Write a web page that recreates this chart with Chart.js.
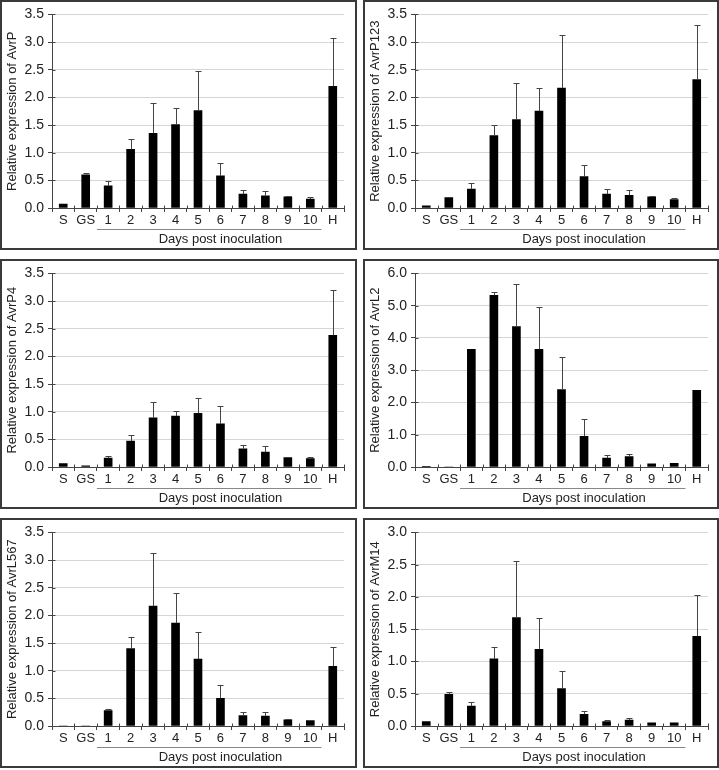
<html>
<head>
    <script src="https://cdn.jsdelivr.net/npm/chart.js"></script>
    <style>
        body { margin: 0; background: #fff; }
        .panel { position: absolute; border: 2px solid #3a3a3a; width: 353px; height: 246px; background: #fff; }
        .panel.right { width: 352px; }
    </style>
    <title></title>
</head>
<body>
    <div class="panel" style="left:0px;top:0px;"><canvas id="c1" width="353" height="246"></canvas></div>
    <div class="panel right" style="left:363px;top:0px;"><canvas id="c2" width="352" height="246"></canvas></div>
    <div class="panel" style="left:0px;top:259px;"><canvas id="c3" width="353" height="246"></canvas></div>
    <div class="panel right" style="left:363px;top:259px;"><canvas id="c4" width="352" height="246"></canvas></div>
    <div class="panel" style="left:0px;top:518px;"><canvas id="c5" width="353" height="246"></canvas></div>
    <div class="panel right" style="left:363px;top:518px;"><canvas id="c6" width="352" height="246"></canvas></div>

    <script>
        "use strict";

        // categories on the x axis
        const categories = ["S", "GS", "1", "2", "3", "4", "5", "6", "7", "8", "9", "10", "H"];

        // mean values and upper error (SD) per gene
        const avrP = [0.07, 0.60, 0.40, 1.06, 1.35, 1.51, 1.76, 0.58, 0.25, 0.22, 0.20, 0.16, 2.20];
        const avrPErr = [0, 0.03, 0.09, 0.18, 0.55, 0.29, 0.72, 0.23, 0.08, 0.08, 0.02, 0.03, 0.88];

        const avrP123 = [0.04, 0.19, 0.34, 1.31, 1.60, 1.75, 2.17, 0.57, 0.25, 0.23, 0.20, 0.15, 2.32];
        const avrP123Err = [0, 0, 0.11, 0.19, 0.66, 0.42, 0.95, 0.21, 0.10, 0.09, 0.01, 0.03, 0.98];

        const avrP4 = [0.06, 0.02, 0.16, 0.47, 0.89, 0.92, 0.97, 0.78, 0.33, 0.27, 0.17, 0.15, 2.38];
        const avrP4Err = [0, 0, 0.03, 0.11, 0.28, 0.10, 0.28, 0.32, 0.07, 0.11, 0, 0.03, 0.82];

        const avrL2 = [0.02, 0, 3.65, 5.32, 4.35, 3.65, 2.40, 0.95, 0.28, 0.32, 0.10, 0.11, 2.38];
        const avrL2Err = [0, 0, 0, 0.10, 1.33, 1.31, 1.02, 0.55, 0.08, 0.08, 0, 0, 0];

        const avrL567 = [0, 0, 0.28, 1.40, 2.17, 1.86, 1.21, 0.50, 0.19, 0.18, 0.11, 0.10, 1.08];
        const avrL567Err = [0, 0, 0.02, 0.20, 0.95, 0.54, 0.49, 0.25, 0.07, 0.08, 0.02, 0.01, 0.35];

        const avrM14 = [0.07, 0.49, 0.31, 1.04, 1.68, 1.19, 0.58, 0.18, 0.07, 0.09, 0.05, 0.05, 1.39];
        const avrM14Err = [0, 0.04, 0.06, 0.18, 0.87, 0.48, 0.28, 0.06, 0.03, 0.04, 0, 0, 0.64];

        const xTitle = "Days post inoculation";

        Chart.defaults.font.family = "'Liberation Sans', Arial, Helvetica, sans-serif";
        Chart.defaults.color = "#222";

        // error bars (upper only), underline for days and the x title
        const extras = {
            id: "extras",
            afterDatasetsDraw(chart) {
                let ctx = chart.ctx;
                let xs = chart.scales.x;
                let ys = chart.scales.y;
                let vals = chart.data.datasets[0].data;
                let errs = chart.options.plugins.extras.err;
                ctx.save();
                ctx.strokeStyle = "#444";
                ctx.lineWidth = 1;
                for (let i = 0; i < vals.length; i++) {
                    if (!errs[i]) continue;
                    let x = Math.round(xs.getPixelForValue(i)) + 0.5;
                    let y0 = ys.getPixelForValue(vals[i]);
                    let y1 = Math.round(ys.getPixelForValue(vals[i] + errs[i])) + 0.5;
                    ctx.beginPath();
                    ctx.moveTo(x, y0);
                    ctx.lineTo(x, y1);
                    ctx.moveTo(x - 3, y1);
                    ctx.lineTo(x + 3, y1);
                    ctx.stroke();
                }
                ctx.restore();
            },
            afterDraw(chart) {
                let ctx = chart.ctx;
                let xs = chart.scales.x;
                let ys = chart.scales.y;
                let axisY = Math.round(ys.getPixelForValue(0)) + 0.5;
                ctx.save();
                ctx.strokeStyle = "#444";
                ctx.lineWidth = 1;
                // small inner ticks so they cross the axes
                ctx.beginPath();
                for (let i = 0; i <= categories.length; i++) {
                    let bx = Math.round(xs.getPixelForValue(i - 0.5)) + 0.5;
                    ctx.moveTo(bx, axisY - 3);
                    ctx.lineTo(bx, axisY);
                }
                let ax = Math.round(xs.left) + 0.5;
                for (let t of ys.ticks) {
                    let ty = Math.round(ys.getPixelForValue(t.value)) + 0.5;
                    ctx.moveTo(ax, ty);
                    ctx.lineTo(ax + 3, ty);
                }
                ctx.stroke();

                // underline beneath days 1..10
                ctx.strokeStyle = "#888";
                let lineY = axisY + 21;
                ctx.beginPath();
                ctx.moveTo(xs.getPixelForValue(1.5), lineY);
                ctx.lineTo(xs.getPixelForValue(11.5), lineY);
                ctx.stroke();

                ctx.fillStyle = "#222";
                ctx.font = "13px 'Liberation Sans', Arial, sans-serif";
                ctx.textAlign = "center";
                ctx.textBaseline = "middle";
                ctx.fillText(xTitle, xs.getPixelForValue(7), axisY + 31);
                ctx.restore();
            }
        };

        function MakeChart(id, name, values, errs, yMax, yStep, topPad, rightPad) {
            let canvas = document.querySelector(id);
            let params = {
                type: "bar",
                data: {
                    labels: categories,
                    datasets: [
                        {
                            label: name,
                            data: values,
                            backgroundColor: "#000",
                            barThickness: 8
                        }]
                },
                options: {
                    responsive: false,
                    animation: false,
                    devicePixelRatio: 1,
                    layout: { padding: { left: 0, top: topPad, right: rightPad, bottom: 0 } },
                    plugins: {
                        legend: { display: false },
                        tooltip: { enabled: false },
                        extras: { err: errs }
                    },
                    scales: {
                        x: {
                            afterFit(scale) { scale.height = 40; },
                            border: { color: "#444", width: 1 },
                            grid: { offset: true, drawOnChartArea: false, tickLength: 4, color: "#444" },
                            ticks: { font: { size: 13 }, padding: 1, color: "#222", autoSkip: false, maxRotation: 0 }
                        },
                        y: {
                            min: 0,
                            max: yMax,
                            afterFit(scale) { scale.width = 50; },
                            border: { color: "#444", width: 1 },
                            grid: { color: "#d6d6d6", tickColor: "#444", tickLength: 4 },
                            ticks: {
                                stepSize: yStep,
                                font: { size: 14 },
                                padding: 4,
                                color: "#222",
                                callback: (v) => v.toFixed(1)
                            },
                            title: {
                                display: true,
                                text: "Relative expression of " + name,
                                font: { size: 13 },
                                color: "#222",
                                padding: { top: 3, bottom: 0 }
                            }
                        }
                    }
                },
                plugins: [extras]
            };
            return new Chart(canvas, params);
        }

        MakeChart("#c1", "AvrP", avrP, avrPErr, 3.5, 0.5, 9, 11);
        MakeChart("#c2", "AvrP123", avrP123, avrP123Err, 3.5, 0.5, 9, 9);
        MakeChart("#c3", "AvrP4", avrP4, avrP4Err, 3.5, 0.5, 9, 11);
        MakeChart("#c4", "AvrL2", avrL2, avrL2Err, 6, 1, 6, 9);
        MakeChart("#c5", "AvrL567", avrL567, avrL567Err, 3.5, 0.5, 9, 11);
        MakeChart("#c6", "AvrM14", avrM14, avrM14Err, 3, 0.5, 8, 9);
    </script>
</body>
</html>
